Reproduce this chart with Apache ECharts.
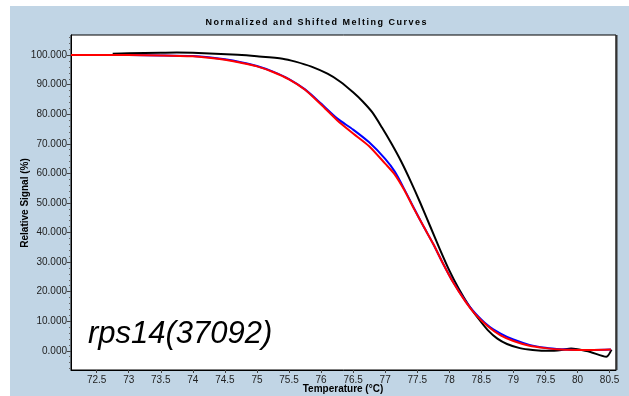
<!DOCTYPE html>
<html>
<head>
<meta charset="utf-8">
<script src="https://cdn.jsdelivr.net/npm/echarts@6/dist/echarts.min.js"></script>
<style>
html,body{margin:0;padding:0;background:#fff;}
#c{width:629px;height:396px;}
</style>
</head>
<body>
<div id="c"></div>
<script>
var titleText = 'Normalized and Shifted Melting Curves';
var xName = 'Temperature (\u00B0C)';
var yName = 'Relative Signal (%)';
var annotation = 'rps14(37092)';

var xTicks = [72.5, 73, 73.5, 74, 74.5, 75, 75.5, 76, 76.5, 77, 77.5, 78, 78.5, 79, 79.5, 80, 80.5];
var yTicks = [0, 10, 20, 30, 40, 50, 60, 70, 80, 90, 100];
var yMinorTicks = [-6, -4, -2, 2, 4, 6, 8, 12, 14, 16, 18, 22, 24, 26, 28, 32, 34, 36, 38, 42, 44, 46, 48, 52, 54, 56, 58, 62, 64, 66, 68, 72, 74, 76, 78, 82, 84, 86, 88, 92, 94, 96, 98, 102, 104, 106];

var blackT = [72.75, 73, 73.5, 73.75, 74, 74.35, 74.7, 75, 75.4, 75.6, 75.85, 76.1, 76.3, 76.5, 76.65, 76.8, 76.95, 77.1, 77.25, 77.4, 77.55, 77.7, 77.85, 78, 78.15, 78.3, 78.45, 78.6, 78.75, 78.9, 79.1, 79.3, 79.55, 79.75, 79.9, 80.0, 80.2, 80.45, 80.53];
var blackV = [100.5, 100.6, 100.8, 100.9, 100.8, 100.5, 100.1, 99.6, 98.8, 97.8, 96.1, 93.7, 91.0, 87.4, 84.3, 80.6, 75.5, 70.0, 64.0, 57.2, 49.9, 42.2, 34.5, 27.2, 20.9, 15.5, 11.0, 7.0, 4.1, 2.3, 0.9, 0.3, 0.0, 0.3, 0.8, 0.5, -0.4, -2.0, 0.4];

var blueT = [72.1, 72.5, 73, 73.5, 74, 74.25, 74.5, 74.75, 75, 75.25, 75.5, 75.75, 76, 76.25, 76.5, 76.75, 77, 77.15, 77.3, 77.45, 77.6, 77.75, 77.9, 78.05, 78.25, 78.4, 78.6, 78.8, 79, 79.25, 79.5, 79.75, 80, 80.25, 80.52];
var blueV = [100, 100, 100, 99.9, 99.7, 99.3, 98.6, 97.6, 96.3, 94.4, 91.9, 88.4, 83.6, 78.6, 74.8, 70.5, 64.9, 60.6, 54.6, 48.2, 42.0, 36.1, 29.6, 23.6, 16.9, 12.8, 8.6, 5.8, 3.8, 2.0, 1.0, 0.5, 0.3, 0.3, 0.4];

var redT = [72.1, 72.5, 73, 73.5, 74, 74.25, 74.5, 74.75, 75, 75.25, 75.5, 75.75, 76, 76.25, 76.5, 76.75, 77, 77.15, 77.3, 77.45, 77.6, 77.75, 77.9, 78.05, 78.25, 78.4, 78.6, 78.8, 79, 79.25, 79.5, 79.75, 80, 80.25, 80.52];
var redV = [100, 100, 100, 99.9, 99.6, 99.1, 98.4, 97.4, 96.2, 94.3, 91.8, 88.3, 83.3, 78.0, 73.5, 69.2, 63.3, 59.6, 54.3, 48.0, 42.0, 36.1, 29.6, 23.5, 16.7, 12.5, 8.3, 5.2, 3.3, 1.7, 0.9, 0.4, 0.3, 0.3, 0.4];

function pairs(t, v) { return t.map(function (x, i) { return [x, v[i]]; }); }

var font = '"Liberation Sans", Arial, sans-serif';

function spacedText(str, cx, cy, fontStr, spacing) {
  var ctx = document.createElement('canvas').getContext('2d');
  ctx.font = fontStr;
  var widths = str.split('').map(function (ch) { return ctx.measureText(ch).width; });
  var total = widths.reduce(function (a, b) { return a + b; }, 0) + spacing * (str.length - 1);
  var x = cx - total / 2;
  var out = [];
  str.split('').forEach(function (ch, i) {
    if (ch !== ' ') {
      out.push({type: 'text', z: 60, silent: true, x: x, y: cy,
        style: {text: ch, font: fontStr, fill: '#000', textVerticalAlign: 'middle'}});
    }
    x += widths[i] + spacing;
  });
  return out;
}

var chart = echarts.init(document.getElementById('c'), null, {renderer: 'canvas'});
var graphics = [
  {type: 'rect', z: -10, silent: true, shape: {x: 10, y: 6, width: 619, height: 390}, style: {fill: '#c1d5e5'}},
  {type: 'rect', z: -9, silent: true, shape: {x: 71, y: 35, width: 545, height: 335}, style: {fill: '#ffffff', stroke: '#000', lineWidth: 1}},
  {type: 'line', z: 50, silent: true, shape: {x1: 616.5, y1: 35, x2: 616.5, y2: 370}, style: {stroke: '#333', lineWidth: 2}},
  {type: 'text', z: 60, silent: true, x: 88, y: 334,
    style: {text: annotation, font: 'italic 31px "Liberation Sans", Arial, sans-serif', fill: '#000', textVerticalAlign: 'middle'}},
  {type: 'text', z: 60, silent: true, x: 25, y: 203, rotation: Math.PI / 2,
    style: {text: yName, font: 'bold 10px ' + font, fill: '#000', textAlign: 'center', textVerticalAlign: 'middle'}},
  {type: 'text', z: 60, silent: true, x: 343, y: 389,
    style: {text: xName, font: 'bold 10px ' + font, fill: '#000', textAlign: 'center', textVerticalAlign: 'middle'}}
].concat(spacedText(titleText, 316, 23, 'bold 9px "Liberation Sans", Arial, sans-serif', 1.5));

var lineCommon = {type: 'line', showSymbol: false, smooth: 0.25};
var option = {
  backgroundColor: '#ffffff',
  animation: false,
  graphic: graphics,
  grid: {left: 71, top: 35, right: 13, bottom: 26, containLabel: false, show: false},
  xAxis: {
    type: 'value', min: 72.1, max: 80.6,
    axisLine: {show: true, onZero: false, lineStyle: {color: '#000', width: 1}},
    axisTick: {show: true, customValues: xTicks, length: 3, lineStyle: {color: '#444'}},
    axisLabel: {show: true, customValues: xTicks, margin: 5, fontFamily: font, fontSize: 10, color: '#222',
      formatter: function (v) { return String(v); }},
    splitLine: {show: false}
  },
  yAxis: [{
    type: 'value', min: -6.5, max: 106.8,
    axisLine: {show: true, onZero: false, lineStyle: {color: '#000', width: 1}},
    axisTick: {show: true, customValues: yTicks, length: 4, lineStyle: {color: '#444'}},
    axisLabel: {show: true, customValues: yTicks, margin: 4, fontFamily: font, fontSize: 10, color: '#222',
      formatter: function (v) { return v.toFixed(3); }},
    splitLine: {show: false}
  }, {
    type: 'value', min: -6.5, max: 106.8, position: 'left',
    axisLine: {show: false},
    axisTick: {show: true, customValues: yMinorTicks, length: 2, lineStyle: {color: '#666'}},
    axisLabel: {show: false},
    splitLine: {show: false}
  }],
  series: [
    Object.assign({}, lineCommon, {name: 'black', data: pairs(blackT, blackV), lineStyle: {color: '#000000', width: 2}, z: 3}),
    Object.assign({}, lineCommon, {name: 'blue', data: pairs(blueT, blueV), lineStyle: {color: '#0000ff', width: 2}, z: 4}),
    Object.assign({}, lineCommon, {name: 'red', data: pairs(redT, redV), lineStyle: {color: '#ff0000', width: 2}, z: 5})
  ]
};
chart.setOption(option);
</script>
</body>
</html>
